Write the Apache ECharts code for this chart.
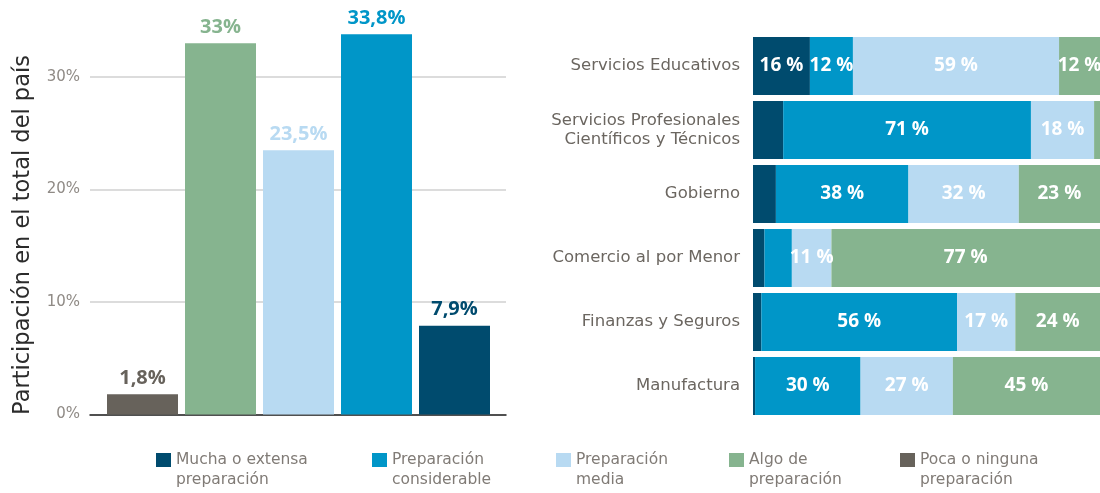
<!DOCTYPE html>
<html>
<head>
<meta charset="utf-8">
<script src="https://cdn.jsdelivr.net/npm/echarts@6/dist/echarts.min.js"></script>
<style>
  html, body { margin: 0; padding: 0; background: #fff; }
  #chart { width: 1100px; height: 493px; }
</style>
</head>
<body>
<div id="chart"></div>
<script>
// niveles de preparacion (orden de la leyenda)
const levels = ['Mucha o extensa\npreparación', 'Preparación\nconsiderable', 'Preparación\nmedia', 'Algo de\npreparación', 'Poca o ninguna\npreparación'];
const colors = ['#004b6e', '#0096c8', '#b8daf2', '#86b48f', '#67625b'];

// grafico izquierdo: participacion en el total del pais (orden de las barras)
const leftOrder = [4, 3, 2, 1, 0];
const leftValues = [1.8, 33, 23.5, 33.8, 7.9];
const leftTicks = [0, 10, 20, 30];

// grafico derecho: sectores (% de cada sector)
const sectors = ['Servicios Educativos', 'Servicios Profesionales\nCientíficos y Técnicos', 'Gobierno', 'Comercio al por Menor', 'Finanzas y Seguros', 'Manufactura'];
const mucha = [16.4, 8.7, 6.6, 3.3, 2.4, 0.6];
const considerable = [12.4, 71.4, 38.2, 7.9, 56.4, 30.4];
const media = [59.4, 18.2, 31.8, 11.4, 16.8, 26.6];
const algo = [11.8, 1.7, 23.4, 77.4, 24.4, 45];
const poca = [0, 0, 0, 0, 0, 1];
const rightSeries = [mucha, considerable, media, algo, poca];

const font = 'DejaVu Sans';
const boldFont = 'Open Sans';

let series = [];

//barras apiladas al 100%
rightSeries.forEach((vals, i) => {
    series.push({
        name: levels[i],
        type: 'bar',
        stack: 'sector',
        xAxisIndex: 2,
        yAxisIndex: 2,
        barWidth: 58,
        itemStyle: { color: colors[i] },
        label: {
            show: true,
            position: 'inside',
            color: '#fff',
            fontFamily: boldFont,
            fontWeight: 'bold',
            fontSize: 19,
            formatter: p => p.value >= 10 ? Math.round(p.value) + ' %' : ''
        },
        data: vals
    });
});

//barras simples del grafico izquierdo
leftOrder.forEach((lvl, idx) => {
    let data = leftValues.map((v, j) => j === idx ? v : '-');
    series.push({
        name: levels[lvl],
        type: 'bar',
        stack: 'total',
        xAxisIndex: 1,
        yAxisIndex: 1,
        barWidth: 71,
        itemStyle: { color: colors[lvl] },
        label: {
            show: true,
            position: 'top',
            distance: 6,
            color: colors[lvl],
            fontFamily: boldFont,
            fontWeight: 'bold',
            fontSize: 20,
            formatter: p => String(p.value).replace('.', ',') + '%'
        },
        data: data
    });
});

//leyendas, una por nivel
const legendLeft = [156, 372, 556, 729, 900];
let legends = levels.map((name, i) => ({
    data: [name],
    left: legendLeft[i],
    top: 430,
    padding: 0,
    itemWidth: 15,
    itemHeight: 14,
    icon: 'rect',
    selectedMode: false,
    formatter: n => '\n' + n,
    textStyle: { fontFamily: font, color: '#807b76', fontSize: 15.5, lineHeight: 20 }
}));

const option = {
    animation: false,
    textStyle: { fontFamily: font },
    grid: [
        { left: 90, right: 594, top: 4, bottom: 78.5 },
        { left: 103.5, right: 606.5, top: 4, bottom: 78.5 },
        { left: 753, right: 0, top: 34, bottom: 75 }
    ],
    xAxis: [
        {
            gridIndex: 0, type: 'category', data: [''],
            axisLine: { lineStyle: { color: '#222', width: 1.5 } },
            axisTick: { show: false }, axisLabel: { show: false }
        },
        {
            gridIndex: 1, type: 'category', data: leftOrder.map(i => levels[i]),
            show: false
        },
        {
            gridIndex: 2, type: 'value', min: 0, max: 100, show: false
        }
    ],
    yAxis: [
        {
            gridIndex: 0, type: 'value', min: 0, max: 36.5, interval: 10,
            axisLine: { show: false }, axisTick: { show: false },
            axisLabel: {
                color: '#8f8a85', fontSize: 15, margin: 10,
                showMaxLabel: false,
                formatter: v => leftTicks.indexOf(v) >= 0 ? v + '%' : ''
            },
            splitLine: { showMaxLine: false, lineStyle: { color: '#dcdcdc', width: 2 } }
        },
        {
            gridIndex: 1, type: 'value', min: 0, max: 36.5, show: false
        },
        {
            gridIndex: 2, type: 'category', data: sectors, inverse: true,
            axisLine: { show: false }, axisTick: { show: false },
            axisLabel: { color: '#6b6660', fontSize: 16.5, lineHeight: 19, margin: 13 }
        }
    ],
    legend: legends,
    graphic: [{
        type: 'text',
        x: 23,
        y: 235,
        rotation: Math.PI / 2,
        style: {
            text: 'Participación en el total del país',
            fill: '#2b2b2b',
            font: '22.5px "DejaVu Sans"',
            textAlign: 'center',
            textVerticalAlign: 'middle'
        }
    }],
    series: series
};

let myChart = echarts.init(document.getElementById('chart'));
myChart.setOption(option);
</script>
</body>
</html>
